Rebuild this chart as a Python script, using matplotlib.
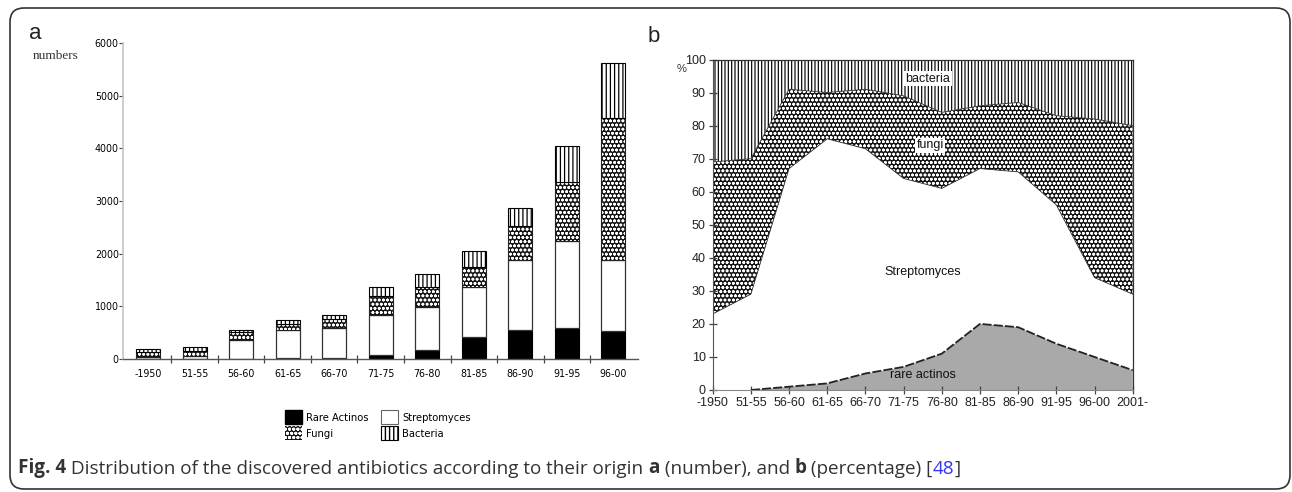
import numpy as np
import matplotlib
matplotlib.use("Agg")
import matplotlib.pyplot as plt
from matplotlib import font_manager
from matplotlib.font_manager import FontProperties
from matplotlib.patches import Patch, FancyBboxPatch
from matplotlib.text import Annotation
from matplotlib.transforms import IdentityTransform

# ---------------- data ----------------
periods_a = ['-1950', '51-55', '56-60', '61-65', '66-70', '71-75',
             '76-80', '81-85', '86-90', '91-95', '96-00']
rare_a = [0, 0, 5, 10, 20, 75, 165, 420, 555, 585, 535]
strepto_a = [40, 65, 360, 540, 560, 765, 815, 950, 1330, 1660, 1350]
fungi_a = [90, 95, 140, 120, 180, 360, 380, 380, 635, 1110, 2690]
bacteria_a = [60, 75, 45, 75, 75, 170, 250, 310, 340, 680, 1040]
yticks_a = [0, 1000, 2000, 3000, 4000, 5000, 6000]

periods_b = ['-1950', '51-55', '56-60', '61-65', '66-70', '71-75',
             '76-80', '81-85', '86-90', '91-95', '96-00', '2001-']
rare_b = [0, 0, 1, 2, 5, 7, 11, 20, 19, 14, 10, 6]
strepto_b = [23, 29, 66, 74, 68, 57, 50, 47, 47, 42, 24, 23]
fungi_b = [46, 41, 24, 14, 18, 25, 23, 19, 21, 27, 48, 51]
bacteria_b = [31, 30, 9, 10, 9, 11, 16, 14, 13, 17, 18, 20]
yticks_b = [0, 10, 20, 30, 40, 50, 60, 70, 80, 90, 100]

legend_labels = ['Rare Actinos', 'Fungi', 'Streptomyces', 'Bacteria']

# ---------------- fonts ----------------
names = {f.name for f in font_manager.fontManager.ttflist}
narrow_file = None
for f in font_manager.fontManager.ttflist:
    if ('Narrow' in f.name or f.stretch in ('condensed', 'semi-condensed')) \
            and 'Mono' not in f.name and 'Serif' not in f.name \
            and f.weight in (400, 'normal', 'regular') and f.style == 'normal':
        narrow_file = f.fname
        break
if narrow_file:
    NP = lambda s: FontProperties(fname=narrow_file, size=s)
else:
    NP = lambda s: FontProperties(family='Liberation Sans', size=s * 0.95)
SANS = 'Liberation Sans'
CAP = 'Open Sans' if 'Open Sans' in names else 'DejaVu Sans'

W, H = 1292, 492
fig = plt.figure(figsize=(W / 100, H / 100), dpi=100)


def rect(l, t, r, b):
    return [l / W, 1 - b / H, (r - l) / W, (b - t) / H]


def ftxt(x, y, s, **kw):
    return fig.text(x / W, 1 - y / H, s, **kw)


FUNGI_FC = '#151515'
FUNGI_HATCH = 'oooo'

# ---------------- panel a ----------------
axa = fig.add_axes(rect(123, 43, 638, 359))
x = np.arange(len(periods_a))
bw = 0.52
rare = np.array(rare_a, float)
st = np.array(strepto_a, float)
fu = np.array(fungi_a, float)
ba = np.array(bacteria_a, float)

b0 = np.zeros_like(rare)
axa.bar(x, rare, bw, bottom=b0, color='black', edgecolor='black', linewidth=0.8)
b1 = b0 + rare
axa.bar(x, st, bw, bottom=b1, facecolor='white', edgecolor='#333333', linewidth=0.9)
b2 = b1 + st
with plt.rc_context({'hatch.linewidth': 0.8}):
    axa.bar(x, fu, bw, bottom=b2, facecolor=FUNGI_FC, edgecolor='white',
            hatch=FUNGI_HATCH, linewidth=0)
axa.bar(x, fu, bw, bottom=b2, fill=False, edgecolor='#222222', linewidth=0.8)
b3 = b2 + fu
with plt.rc_context({'hatch.linewidth': 0.9}):
    axa.bar(x, ba, bw, bottom=b3, facecolor='white', edgecolor='black',
            hatch='||||', linewidth=0.8)

axa.set_xlim(-0.54, 10.53)
axa.set_ylim(0, 6000)
for s in ['top', 'right']:
    axa.spines[s].set_visible(False)
axa.spines['left'].set_color('#c4c4c4')
axa.spines['left'].set_linewidth(1.2)
axa.spines['bottom'].set_color('#555555')
axa.spines['bottom'].set_linewidth(1.0)
axa.set_yticks(yticks_a)
axa.set_yticklabels([str(v) for v in yticks_a], fontproperties=NP(7.6))
axa.tick_params(axis='y', direction='out', length=3, width=0.8, color='#444444', pad=0)
axa.set_xticks(x)
axa.set_xticklabels(periods_a, fontproperties=NP(7.6))
axa.tick_params(axis='x', which='major', length=0, pad=7)
axa.set_xticks(np.arange(len(periods_a) - 1) + 0.5, minor=True)
axa.tick_params(axis='x', which='minor', direction='inout', length=6, width=0.9, color='#444444')

# legend
with plt.rc_context({'hatch.linewidth': 0.8}):
    handles = [Patch(facecolor='black', edgecolor='black'),
               Patch(facecolor=FUNGI_FC, edgecolor='white', hatch=FUNGI_HATCH, linewidth=0),
               Patch(facecolor='white', edgecolor='#666666', linewidth=0.8),
               Patch(facecolor='white', edgecolor='black', hatch='||||', linewidth=0.8)]
leg = fig.legend(handles, legend_labels, ncol=2, frameon=False,
                 loc='center left', bbox_to_anchor=(285 / W, 1 - 425 / H),
                 prop=NP(8.0), borderaxespad=0,
                 handlelength=1.5, handleheight=1.45, handletextpad=0.35,
                 columnspacing=1.2, labelspacing=0.25, borderpad=0)

ftxt(29, 39, 'a', family=SANS, fontsize=16, color='#222222')
ftxt(33, 59, 'numbers', family='Liberation Serif', fontsize=9.5, color='#333333')

# ---------------- panel b ----------------
axb = fig.add_axes(rect(712.7, 59.5, 1132.7, 390))
xb = np.arange(len(periods_b))
r = np.array(rare_b, float)
c1 = r
c2 = c1 + np.array(strepto_b, float)
c3 = c2 + np.array(fungi_b, float)
c4 = c3 + np.array(bacteria_b, float)

axb.fill_between(xb, 0, c1, facecolor='#a9a9a9', edgecolor='none', linewidth=0)
axb.fill_between(xb, c1, c2, facecolor='white', edgecolor='none', linewidth=0)
with plt.rc_context({'hatch.linewidth': 0.8}):
    axb.fill_between(xb, c2, c3, facecolor=FUNGI_FC, edgecolor='white',
                     hatch=FUNGI_HATCH, linewidth=0)
with plt.rc_context({'hatch.linewidth': 0.85}):
    axb.fill_between(xb, c3, c4, facecolor='white', edgecolor='black',
                     hatch='|||||', linewidth=0)
axb.plot(xb[1:], c1[1:], color='#222222', linewidth=1.3, linestyle=(0, (5, 1.2)))
axb.plot(xb, c2, color='#333333', linewidth=0.6)
axb.plot(xb, c3, color='#333333', linewidth=0.6)

axb.set_xlim(0, 11)
axb.set_ylim(0, 100)
for s in ['top', 'right']:
    axb.spines[s].set_color('#333333')
    axb.spines[s].set_linewidth(0.9)
axb.spines['left'].set_color('#555555')
axb.spines['bottom'].set_color('#888888')
axb.set_xticks(xb)
axb.set_xticklabels(periods_b, family=SANS, fontsize=9, color='#222222')
axb.set_yticks(yticks_b)
axb.set_yticklabels([str(v) for v in yticks_b], family=SANS, fontsize=9, color='#222222')
axb.tick_params(axis='both', direction='inout', length=6, width=0.9, color='#444444', pad=2)

lab = dict(family=SANS, fontsize=9, color='#111111', ha='center', va='center')
axb.text(5.64, 94.2, 'bacteria', bbox=dict(facecolor='white', edgecolor='none', pad=1.2), **lab)
axb.text(5.7, 74.0, 'fungi', bbox=dict(facecolor='white', edgecolor='none', pad=1.0), **lab)
axb.text(5.5, 35.7, 'Streptomyces', **lab)
axb.text(5.5, 4.6, 'rare actinos', **lab)

ftxt(648, 42, 'b', family=SANS, fontsize=16, color='#222222')
ftxt(682, 69, '%', family=SANS, fontsize=8, color='#333333', ha='center', va='center')

# ---------------- border ----------------
box = FancyBboxPatch((10, 3), 1280, 481, boxstyle='round,pad=0,rounding_size=14',
                     transform=IdentityTransform(), facecolor='none',
                     edgecolor='#333333', linewidth=1.2)
fig.add_artist(box)

# ---------------- caption ----------------
parts = [('Fig. 4', 'bold', '#333333'),
         (' Distribution of the discovered antibiotics according to their origin ', 'normal', '#333333'),
         ('a', 'bold', '#333333'),
         (' (number), and ', 'normal', '#333333'),
         ('b', 'bold', '#333333'),
         (' (percentage) [', 'normal', '#333333'),
         ('48', 'normal', '#3333ff'),
         (']', 'normal', '#333333')]


def draw_caption(size):
    arts = []
    prev = ftxt(18, 478, parts[0][0], family=CAP, fontsize=size, fontweight=parts[0][1],
                color=parts[0][2], va='bottom', ha='left')
    arts.append(prev)
    for s, wgt, col in parts[1:]:
        a = Annotation(s, xy=(1, 0), xycoords=prev, va='bottom', ha='left',
                       family=CAP, fontsize=size, fontweight=wgt, color=col)
        fig.add_artist(a)
        arts.append(a)
        prev = a
    return arts


size0 = 10.0
arts = draw_caption(size0)
fig.canvas.draw()
rend = fig.canvas.get_renderer()
x0 = arts[0].get_window_extent(rend).x0
x1 = arts[-1].get_window_extent(rend).x1
for a in arts:
    a.remove()
size = size0 * (962 - 18) / (x1 - x0)
draw_caption(size)

fig.savefig('out.png', dpi=100)
